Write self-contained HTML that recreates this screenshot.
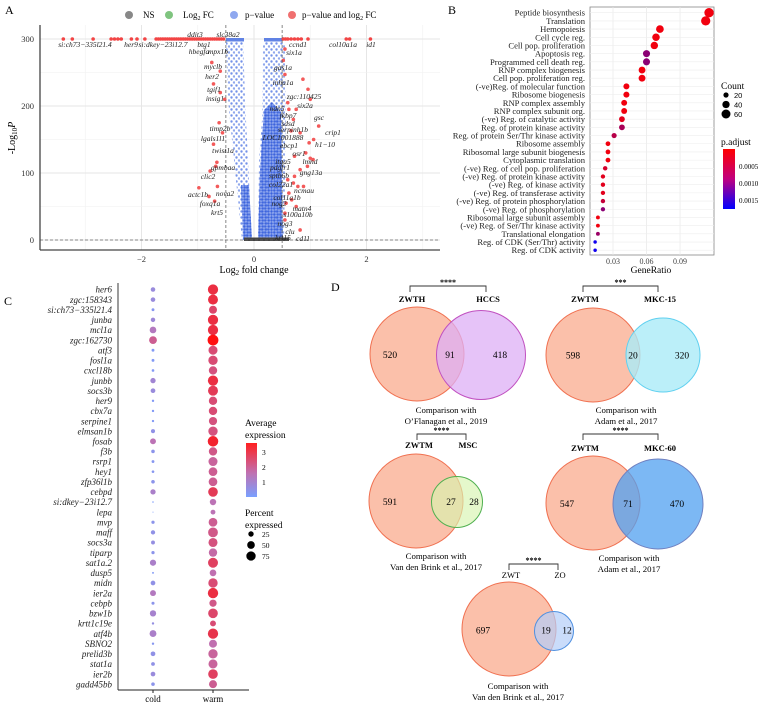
<!DOCTYPE html>
<html><head><meta charset="utf-8"><style>
body{margin:0;background:#fff}
svg{display:block;font-family:"Liberation Serif",serif}
.it{font-style:italic}
</style></head><body>
<svg id="fig" width="768" height="705" viewBox="0 0 768 705" xmlns="http://www.w3.org/2000/svg">
<defs>
<pattern id="dotsSparse" width="5" height="6" patternUnits="userSpaceOnUse"><circle cx="1.5" cy="1.5" r="1.2" fill="rgba(70,110,225,0.75)"/><circle cx="4" cy="4.5" r="1.2" fill="rgba(70,110,225,0.6)"/></pattern>
<pattern id="dotsDense" width="3" height="3" patternUnits="userSpaceOnUse"><rect width="3" height="3" fill="rgba(70,110,225,0.55)"/><circle cx="1.5" cy="1.5" r="1.2" fill="rgba(55,95,220,0.9)"/></pattern>
</defs>
<g id="pA"></g>
<g id="pB"></g>
<g id="pC"></g>
<g id="pD"></g>
</svg>
<script>
const NS='http://www.w3.org/2000/svg';
function mk(p,tag,a,txt){const e=document.createElementNS(NS,tag);for(const k in a)e.setAttribute(k,a[k]);if(txt!==undefined)e.textContent=txt;p.appendChild(e);return e;}

// ===== Panel A data =====
const volTopRedFC=[-3.39,-3.23,-2.86,-2.54,-2.48,-2.42,-2.36,-2.18,-2.08,-1.94,-1.74,-1.7,-1.66,-1.62,-1.58,-1.54,-1.5,-1.46,-1.42,-1.38,-1.34,-1.3,-1.26,-1.22,-1.18,-1.14,-1.1,-1.06,-1.02,-0.98,-0.94,-0.9,-0.86,-0.82,-0.78,-0.74,-0.7,-0.66,-0.62,-0.58,-0.54,0.52,0.56,0.6,0.66,0.72,0.78,0.84,0.96,1.64,1.7,2.07];
const volRedFC=[-0.75,-0.6,-0.72,-0.6,-0.52,-0.62,-0.56,-0.72,-0.66,-0.68,-0.78,-0.98,-0.65,-0.8,-0.7,0.55,0.52,0.55,0.87,0.96,1.0,0.6,0.62,0.75,0.7,1.15,0.66,0.82,1.06,0.98,0.92,0.72,1.0,1.05,0.95,0.82,0.6,0.72,0.7,0.78,0.62,0.88,0.67,0.57,0.75,0.55,0.55,0.82];
const volRedP=[265,252,233,220,210,175,160,143,116,110,103,78,80,65,58,285,268,247,240,225,210,205,195,195,180,170,163,160,150,145,130,125,122,120,110,105,90,95,85,80,70,80,60,55,50,40,30,15];
const volLabels=[['si:ch73−335l21.4',85,45],['her9',131,45],['si:dkey−23i12.7',163,45],['ddit3',195,35],['slc38a2',228,35],['btg1',204,45],['hbegfa',199,52],['mpx1b',218,52],['ccnd1',298,45],['col10a1a',343,45],['id1',371,45],['six1a',294,53],['myclb',213,67],['her2',212,77],['tgif1',214,90],['insig1',215,99],['gas1a',283,68],['inha1a',283,83],['zgc:110425',304,97],['six2a',305,106],['ndn5',277,109],['fkbp7',288,116],['gsc',319,118],['sdsd',288,124],['serpinh1b',293,130],['crip1',333,133],['LOC1001888',283,138],['h1−10',325,145],['timp2b',220,129],['lgals1l1',213,139],['twist1a',223,151],['ebcp1',289,146],['osr1',299,154],['itga5',283,162],['lmnd',310,162],['pdgfr1',280,168],['gng13a',311,173],['sptb6b',279,176],['col22a1',281,185],['ncmau',304,191],['gpmbaa',223,168],['clic2',208,177],['col11a1b',287,198],['nova2',225,194],['actc1b',198,195],['nog2',279,204],['matn4',302,209],['foxq1a',210,204],['s100a10b',298,215],['krt5',217,213],['nog3',285,224],['clu',290,232],['krt15',283,238],['cd11',303,239]];
const volXTicks=[-2,0,2];
const volYTicks=[0,100,200,300];

const ax=v=>254+v*56.25, ay=v=>240-v*0.67;
(function(){
const g=document.getElementById('pA');
mk(g,'text',{x:5,y:14,'font-size':12,},'A');
[-3,-1,1,3].forEach(v=>{if(ax(v)<440)mk(g,'line',{x1:ax(v),x2:ax(v),y1:25,y2:250,stroke:'#f0f0f0','stroke-width':0.6});});
[-2,0,2].forEach(v=>mk(g,'line',{x1:ax(v),x2:ax(v),y1:25,y2:250,stroke:'#e6e6e6','stroke-width':1}));
[50,150,250].forEach(v=>mk(g,'line',{x1:40,x2:440,y1:ay(v),y2:ay(v),stroke:'#f0f0f0','stroke-width':0.6}));
volYTicks.forEach(v=>{mk(g,'line',{x1:40,x2:440,y1:ay(v),y2:ay(v),stroke:'#e6e6e6','stroke-width':1});
 const t=mk(g,'text',{x:34,y:ay(v)+3,'font-size':8.5,'text-anchor':'end',fill:'#333'},v);});
volXTicks.forEach(v=>{const t=mk(g,'text',{x:ax(v),y:262,'font-size':8.5,'text-anchor':'middle',fill:'#333'},v===0?'0':(v<0?'−'+(-v):v));});
const cloud=mk(g,'g',{});
mk(cloud,'polygon',{points:'226,42 243,42 246,120 250,200 252,240 242,240 238,200 233,150 228,100',fill:'url(#dotsSparse)'});
mk(cloud,'polygon',{points:'241,185 249,185 252,240 243,240',fill:'url(#dotsDense)'});
mk(cloud,'polygon',{points:'263,42 285,42 286,120 284,240 258,240 259,160 262,120',fill:'url(#dotsSparse)'});
mk(cloud,'polygon',{points:'264,110 272,102 281,112 283,240 258,240 260,170',fill:'url(#dotsDense)'});
mk(cloud,'rect',{x:226,y:38,width:18,height:3.5,fill:'rgba(70,110,225,0.85)'});
mk(cloud,'rect',{x:264,y:38,width:18,height:3.5,fill:'rgba(70,110,225,0.85)'});
mk(cloud,'rect',{x:244,y:237.5,width:45,height:3.5,fill:'#444'});
volTopRedFC.forEach(v=>{const c=mk(g,'circle',{cx:ax(v),cy:ay(300),r:1.8,fill:'#f24444'});});
volRedFC.forEach((v,i)=>{const c=mk(g,'circle',{cx:ax(v),cy:ay(volRedP[i]),r:1.8,fill:'#f35a5a'});});
[-0.5,0.5].forEach(v=>mk(g,'line',{x1:ax(v),x2:ax(v),y1:25,y2:250,stroke:'#555','stroke-dasharray':'3,2','stroke-width':0.7}));
mk(g,'line',{x1:40,x2:440,y1:ay(0),y2:ay(0),stroke:'#666','stroke-dasharray':'3,2','stroke-width':0.8});
volLabels.forEach(l=>{const t=mk(g,'text',{x:l[1],y:l[2]+2,'font-size':7.5,'text-anchor':'middle',class:'it',fill:'#222'},l[0]);});
mk(g,'line',{x1:40,x2:40,y1:25,y2:250,stroke:'#444','stroke-width':1.3});
mk(g,'line',{x1:40,x2:440,y1:250,y2:250,stroke:'#444','stroke-width':1.3});
const yl=mk(g,'text',{transform:'translate(15,138) rotate(-90)','font-size':10,'text-anchor':'middle',});yl.innerHTML='-Log<tspan font-size="7" dy="2">10</tspan><tspan dy="-2" class="it">P</tspan>';
const xl=mk(g,'text',{x:254,y:273,'font-size':10,'text-anchor':'middle',});xl.innerHTML='Log<tspan font-size="7" dy="2">2</tspan><tspan dy="-2"> fold change</tspan>';
const leg=mk(g,'g',{});
[[129,'#888'],[169,'#7fc47f'],[234,'#8fa8ef'],[292,'#f07070']].forEach(e=>mk(leg,'circle',{cx:e[0],cy:15,r:4,fill:e[1]}));
mk(leg,'text',{x:143,y:18,'font-size':9},'NS');
const l2=mk(leg,'text',{x:183,y:18,'font-size':9});l2.innerHTML='Log<tspan font-size="6" dy="2">2</tspan><tspan dy="-2"> FC</tspan>';
mk(leg,'text',{x:245,y:18,'font-size':9},'p−value');
const l4=mk(leg,'text',{x:302,y:18,'font-size':9});l4.innerHTML='p−value and log<tspan font-size="6" dy="2">2</tspan><tspan dy="-2"> FC</tspan>';
})();

// ===== Panel B data =====
const goTerms=['Peptide biosynthesis','Translation','Hemopoiesis','Cell cycle reg.','Cell pop. proliferation','Apoptosis reg.','Programmed cell death reg.','RNP complex biogenesis','Cell pop. proliferation reg.','(-ve)Reg. of molecular function','Ribosome biogenesis','RNP complex assembly','RNP complex subunit org.','(-ve) Reg. of catalytic activity','Reg. of protein kinase activity','Reg. of protein Ser/Thr kinase activity','Ribosome assembly','Ribosomal large subunit biogenesis','Cytoplasmic translation','(-ve) Reg. of cell pop. proliferation','(-ve) Reg. of protein kinase activity','(-ve) Reg. of kinase activity','(-ve) Reg. of transferase activity','(-ve) Reg. of protein phosphorylation','(-ve) Reg. of phosphorylation','Ribosomal large subunit assembly','(-ve) Reg. of Ser/Thr kinase activity','Translational elongation','Reg. of CDK (Ser/Thr) activity','Reg. of CDK activity'];
const goRatio=[0.116,0.113,0.072,0.0685,0.067,0.060,0.060,0.056,0.056,0.042,0.042,0.040,0.040,0.038,0.038,0.031,0.0255,0.0255,0.0255,0.023,0.021,0.021,0.021,0.021,0.021,0.0165,0.0165,0.0165,0.014,0.014];
const goCount=[66,64,44,42,41,37,37,35,35,27,27,26,26,25,25,20,17,17,17,15,14,14,14,14,14,11,11,11,9,9];
const goPadj=[0.0001,0.0001,0.0001,0.0001,0.0001,0.0008,0.0008,0.0001,0.0001,0.0001,0.0001,0.0001,0.0001,0.0002,0.0006,0.0005,0.0001,0.0001,0.0001,0.0003,0.0002,0.0002,0.0002,0.0004,0.0008,0.0001,0.0001,0.0007,0.00165,0.00165];
const goXTicks=[0.03,0.06,0.09];
(function(){
const g=document.getElementById('pB');
mk(g,'text',{x:448,y:14,'font-size':12,},'B');
const bx=v=>613+(v-0.03)*1117, by=i=>12.7+i*8.19;
mk(g,'rect',{x:590,y:7,width:124,height:248,fill:'#fff',stroke:'#888','stroke-width':0.8});
goXTicks.forEach(v=>{mk(g,'line',{x1:bx(v),x2:bx(v),y1:7,y2:255,stroke:'#e8e8e8','stroke-width':0.7});
 const t=mk(g,'text',{x:bx(v),y:264,'font-size':8,'text-anchor':'middle',fill:'#444'},v.toFixed(2));});
const col=p=>{const t=Math.min(1,p/0.00176);return `rgb(${Math.round(255*(1-t))},0,${Math.round(255*t)})`;};
goTerms.forEach((n,i)=>{mk(g,'line',{x1:590,x2:714,y1:by(i),y2:by(i),stroke:'#eee','stroke-width':0.6});
 const t=mk(g,'text',{x:585,y:by(i)+3,'font-size':8.6,'text-anchor':'end',fill:'#222'},n);});
goTerms.forEach((n,i)=>{const c=mk(g,'circle',{cx:bx(goRatio[i]),cy:by(i),r:Math.sqrt(goCount[i])*0.58,fill:col(goPadj[i])});});
mk(g,'text',{x:651,y:273,'font-size':9.5,'text-anchor':'middle',},'GeneRatio');
mk(g,'text',{x:721,y:89,'font-size':9.5,},'Count');
[20,40,60].forEach((v,i)=>{mk(g,'circle',{cx:726,cy:95+i*9.5,r:Math.sqrt(v)*0.58,fill:'#000'});mk(g,'text',{x:734,y:98+i*9.5,'font-size':7.5,'font-family':'Liberation Sans'},v);});
mk(g,'text',{x:721,y:145,'font-size':9.5,},'p.adjust');
const df=mk(g,'defs',{});const lg=mk(df,'linearGradient',{id:'gB',x1:0,y1:0,x2:0,y2:1});
mk(lg,'stop',{offset:0,'stop-color':'#ff0000'});mk(lg,'stop',{offset:0.5,'stop-color':'#c0007f'});mk(lg,'stop',{offset:1,'stop-color':'#0000ff'});
mk(g,'rect',{x:723,y:149,width:12,height:60,fill:'url(#gB)',});
[['0.0005',166],['0.0010',183],['0.0015',200]].forEach(t=>mk(g,'text',{x:739,y:t[1]+3,'font-size':7},t[0]));
})();

// ===== Panel C data =====
const cGenes=['her6','zgc:158343','si:ch73−335l21.4','junba','mcl1a','zgc:162730','atf3','fosl1a','cxcl18b','junbb','socs3b','her9','cbx7a','serpine1','elmsan1b','fosab','f3b','rsrp1','hey1','zfp36l1b','cebpd','si:dkey−23i12.7','lepa','mvp','maff','socs3a','tiparp','sat1a.2','dusp5','midn','ier2a','cebpb','bzw1b','krtt1c19e','atf4b','SBNO2','prelid3b','stat1a','ier2b','gadd45bb'];
const cColdAvg=[1.0,1.0,0.6,1.1,1.6,2.2,0.5,0.5,0.5,1.2,1.0,0.5,0.5,0.5,0.8,1.8,0.7,0.6,0.6,0.7,1.4,0.4,0.4,0.7,0.8,0.9,0.7,1.4,0.5,0.8,1.6,0.7,1.3,0.9,1.4,0.6,0.8,0.8,1.0,0.7];
const cColdPct=[18,18,7,17,38,52,7,7,6,24,19,5,5,5,14,30,11,7,6,11,24,2,1,9,16,13,9,33,3,19,30,8,34,5,40,5,19,12,19,11];
const cWarmAvg=[3.0,3.0,2.6,3.0,3.0,3.5,2.5,2.5,2.4,3.0,2.8,2.5,2.5,2.4,2.4,3.2,2.3,2.1,2.2,2.2,2.8,1.8,1.8,2.2,2.3,2.4,2.0,2.7,1.9,2.5,3.0,2.3,2.6,2.5,2.9,1.9,2.1,2.1,2.7,2.2];
const cWarmPct=[90,85,55,90,90,100,70,75,60,90,85,60,60,58,75,95,60,70,65,65,80,35,20,65,82,70,60,85,38,75,92,45,80,30,90,55,75,70,80,55];
const cGroups=['cold','warm'];
(function(){
const g=document.getElementById('pC');
mk(g,'text',{x:4,y:305,'font-size':12,},'C');
const gx=[153,213], gy=i=>289.5+i*10.12;
const col=v=>{const t=Math.max(0,Math.min(1,(v-0.3)/3.2));const a=[122,160,255],m=[192,112,176],b=[255,16,16];
 const c=t<0.5?a.map((x,k)=>x+(m[k]-x)*t*2):m.map((x,k)=>x+(b[k]-x)*(t-0.5)*2);return `rgb(${c.map(Math.round).join(',')})`;};
const rr=p=>Math.sqrt(p/100)*5.4;
cGenes.forEach((n,i)=>{const t=mk(g,'text',{x:112,y:gy(i)+3.2,'font-size':9,'text-anchor':'end',class:'it',fill:'#222'},n);
 const c1=mk(g,'circle',{cx:gx[0],cy:gy(i),r:rr(cColdPct[i]),fill:col(cColdAvg[i])});
 const c2=mk(g,'circle',{cx:gx[1],cy:gy(i),r:rr(cWarmPct[i]),fill:col(cWarmAvg[i])});});
mk(g,'line',{x1:118,x2:118,y1:283,y2:690,stroke:'#222','stroke-width':0.9});
mk(g,'line',{x1:118,x2:249,y1:690,y2:690,stroke:'#222','stroke-width':0.9});
cGroups.forEach((n,i)=>{mk(g,'line',{x1:gx[i],x2:gx[i],y1:690,y2:693,stroke:'#222'});const t=mk(g,'text',{x:gx[i],y:702,'font-size':9,'text-anchor':'middle'},n);});
mk(g,'text',{x:245,y:426,'font-size':9.5,},'Average');
mk(g,'text',{x:245,y:438,'font-size':9.5},'expression');
const df=mk(g,'defs',{});const lg=mk(df,'linearGradient',{id:'gC',x1:0,y1:0,x2:0,y2:1});
mk(lg,'stop',{offset:0,'stop-color':'#ff2020'});mk(lg,'stop',{offset:0.55,'stop-color':'#c070b0'});mk(lg,'stop',{offset:1,'stop-color':'#7aa0ff'});
mk(g,'rect',{x:246,y:443,width:11,height:54,fill:'url(#gC)',});
[['3',452],['2',467],['1',482]].forEach(t=>mk(g,'text',{x:262,y:t[1]+3,'font-size':7.5},t[0]));
mk(g,'text',{x:245,y:516,'font-size':9.5,},'Percent');
mk(g,'text',{x:245,y:528,'font-size':9.5},'expressed');
[25,50,75].forEach((v,i)=>{mk(g,'circle',{cx:251,cy:534+i*11,r:rr(v),fill:'#000'});mk(g,'text',{x:262,y:537+i*11,'font-size':7.5},v);});
})();

// ===== Panel D data =====
const vennNames=[['ZWTH','HCCS'],['ZWTM','MKC-15'],['ZWTM','MSC'],['ZWTM','MKC-60'],['ZWT','ZO']];
const vennLeft=[520,598,591,547,697];
const vennMid=[91,20,27,71,19];
const vennRight=[418,320,28,470,12];
const vennStars=['****','***','****','****','****'];
const vennCaption=[["Comparison with","O’Flanagan et al., 2019"],["Comparison with","Adam et al., 2017"],["Comparison with","Van den Brink et al., 2017"],["Comparison with","Adam et al., 2017"],["Comparison with","Van den Brink et al., 2017"]];
(function(){
const g=document.getElementById('pD');
mk(g,'text',{x:331,y:291,'font-size':12,},'D');
const L=[ {c1:[417,354,47],c2:[481,355,44.5],f2:'rgba(222,175,245,0.75)',s2:'#c050c0',br:[410,486,286],lab:302,n:[390,450,500],cap:[446,410],bold:1},
 {c1:[593,355,47],c2:[663,355,37],f2:'rgba(170,235,248,0.8)',s2:'#60d0f0',br:[583,658,286],lab:302,n:[573,633,682],cap:[626,410],bold:1},
 {c1:[416,501,47],c2:[457,502,25.5],f2:'rgba(215,245,175,0.65)',s2:'#50b050',br:[417,466,434],lab:448,n:[390,451,474],cap:[436,556],bold:1},
 {c1:[593,503,47],c2:[658,504,45],f2:'rgba(80,160,240,0.75)',s2:'#7080c0',br:[583,658,434],lab:451,n:[567,628,677],cap:[629,558],bold:1},
 {c1:[509,629,47],c2:[554,631,19.5],f2:'rgba(180,205,248,0.7)',s2:'#5090e0',br:[509,558,564],lab:578,n:[483,546,567],cap:[518,686],bold:0}];
L.forEach((o,i)=>{const v=mk(g,'g',{});
 mk(v,'circle',{cx:o.c1[0],cy:o.c1[1],r:o.c1[2],fill:'#fbc0aa',stroke:'#f07050','stroke-width':1});
 mk(v,'circle',{cx:o.c2[0],cy:o.c2[1],r:o.c2[2],fill:o.f2,stroke:o.s2,'stroke-width':1});
 mk(v,'path',{d:`M${o.br[0]},${o.br[2]+6}V${o.br[2]}H${o.br[1]}V${o.br[2]+6}`,fill:'none',stroke:'#333','stroke-width':0.9});
 mk(v,'text',{x:(o.br[0]+o.br[1])/2,y:o.br[2]-1,'font-size':8,'text-anchor':'middle','font-weight':'bold'},vennStars[i]);
 const a={'font-size':8.5,'text-anchor':'middle'};if(o.bold)a['font-weight']='bold';
 mk(v,'text',Object.assign({x:o.br[0]+2,y:o.lab},a),vennNames[i][0]);
 mk(v,'text',Object.assign({x:o.br[1]+2,y:o.lab},a),vennNames[i][1]);
 [vennLeft[i],vennMid[i],vennRight[i]].forEach((n,k)=>mk(v,'text',{x:o.n[k],y:(o.c1[1]+o.c2[1])/2+3.5,'font-size':9.5,'text-anchor':'middle'},n));
 mk(v,'text',{x:o.cap[0],y:o.cap[1]+3,'font-size':8.8,'text-anchor':'middle'},vennCaption[i][0]);
 mk(v,'text',{x:o.cap[0],y:o.cap[1]+14,'font-size':8.8,'text-anchor':'middle'},vennCaption[i][1]);
});
})();
</script>
</body></html>
